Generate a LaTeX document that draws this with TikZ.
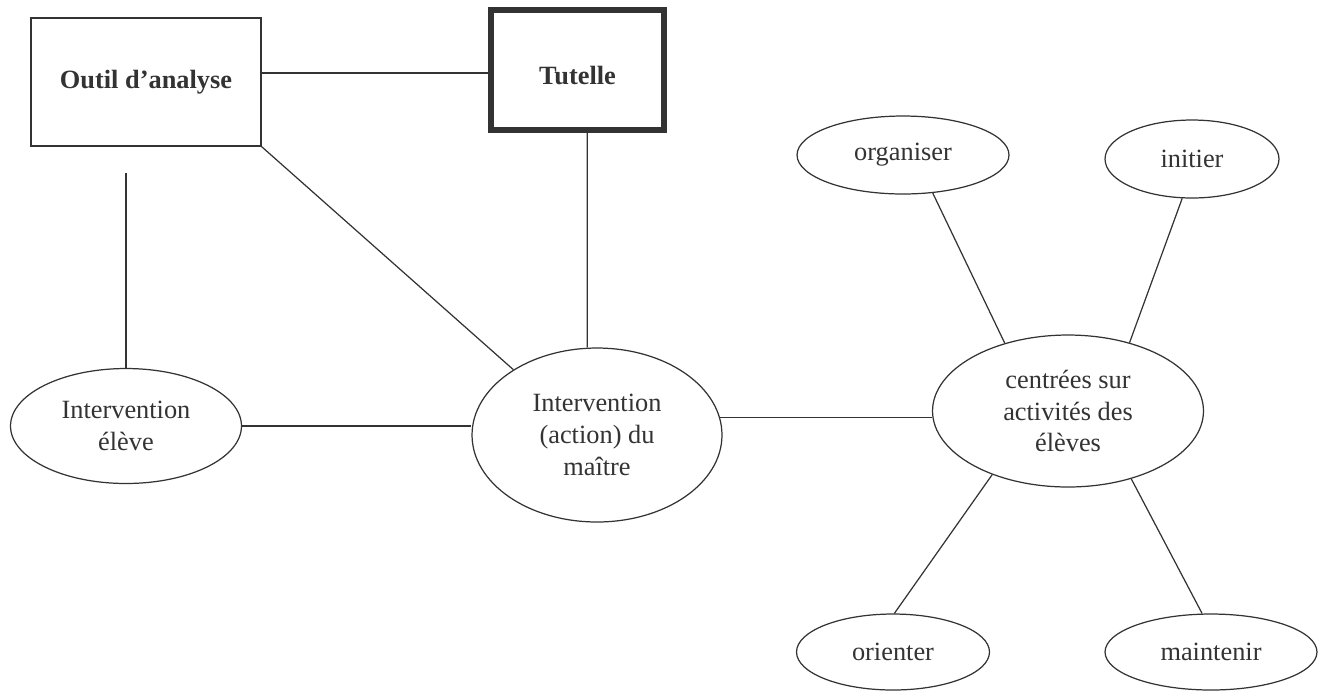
\documentclass[tikz,border=0pt]{standalone}
\usepackage{fontspec}
\setmainfont{Liberation Serif}
\usetikzlibrary{shapes.geometric}
\definecolor{ink}{HTML}{333333}

\begin{document}
\begin{tikzpicture}[x=0.02cm, y=-0.02cm, line width=0.7pt, draw=ink, text=ink,
    font=\fontsize{15}{18}\selectfont,
    box/.style={draw, rectangle, inner sep=0pt, align=center, font=\fontsize{15}{18}\selectfont\bfseries},
    bubble/.style={draw, ellipse, inner sep=0pt, align=center},
    every edge/.style={draw=ink, line width=0.7pt}]
\useasboundingbox (0,0) rectangle (1327,691);
\node[box, minimum width=4.6cm, minimum height=2.56cm] at(146,82)(outil){Outil d’analyse};
\node[box, line width=3.4pt, text height=17pt, minimum width=3.46cm, minimum height=2.4cm] at(577.5,70)(tutelle){Tutelle};
\node[bubble, minimum width=4.62cm, minimum height=2.3cm] at(126,426)(eleve){Intervention\\élève};
\node[bubble, minimum width=5cm, minimum height=3.48cm] at(597,435)(maitre){Intervention\\(action) du\\maître};
\node[bubble, minimum width=5.42cm, minimum height=3.04cm] at(1068,411)(centrees){centrées sur\\activités des\\élèves};
\node[bubble, minimum width=4.24cm, minimum height=1.56cm] at(903,155)(organiser){organiser};
\node[bubble, minimum width=3.48cm, minimum height=1.56cm] at(1192,159)(initier){initier};
\node[bubble, minimum width=3.86cm, minimum height=1.52cm] at(893,652)(orienter){orienter};
\node[bubble, minimum width=4.24cm, minimum height=1.52cm] at(1211,652)(maintenir){maintenir};
\coordinate (outilfoot) at(126,173);
% left part
\path
    ([yshift=-1.7pt]outil.east |- tutelle.west) edge ([yshift=-1.7pt]tutelle.west)
    (outil.south east) edge (maitre.142)
    ([xshift=5.5pt]tutelle.south) edge ([xshift=-5.5pt]maitre.north)
    (outilfoot) edge (eleve)
    (eleve.east) edge (eleve.east -| maitre.west)
    (maitre.8) edge (maitre.8 -| centrees.west);
% right part
\path
    (organiser.-52) edge (centrees.133)
    (initier.-104) edge (centrees.48)
    (centrees.-140) edge (orienter.88)
    (centrees.-47) edge (maintenir.103);
\end{tikzpicture}
\end{document}
